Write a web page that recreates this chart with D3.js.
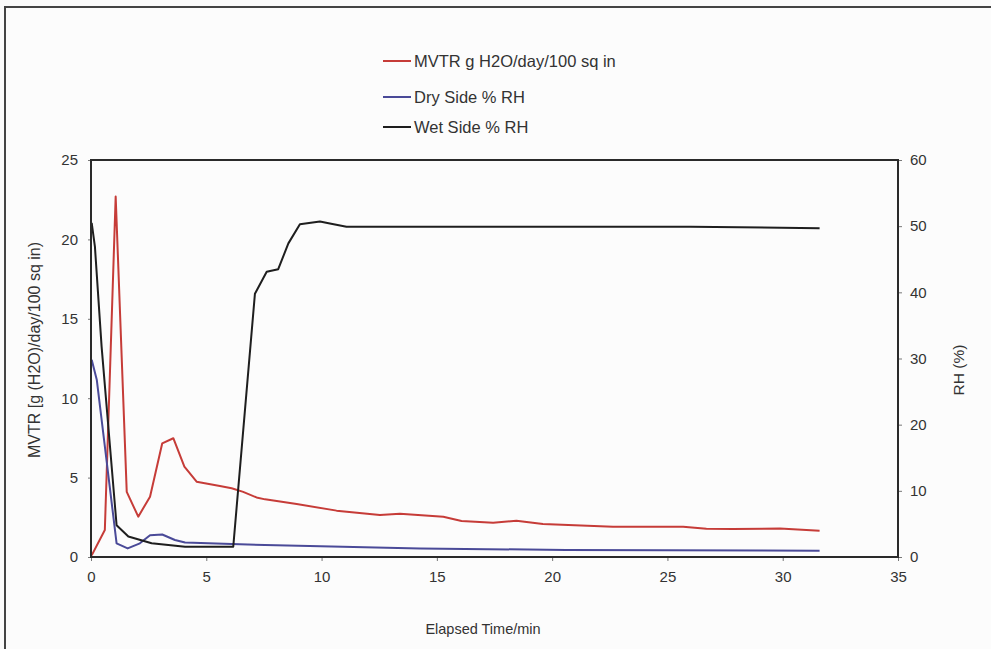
<!DOCTYPE html>
<html>
<head>
<meta charset="utf-8">
<script src="https://cdn.jsdelivr.net/npm/d3@7"></script>
<style>
  html, body { margin: 0; padding: 0; background: #fbfbfb; }
  svg text { font-family: "Liberation Sans", Arial, sans-serif; fill: #333; }
</style>
</head>
<body>
<svg id="chart" width="991" height="649"></svg>
<script>
// ---- Data ----
const mvtrTime = [0.03, 0.6, 1.07, 1.55, 2.05, 2.56, 3.09, 3.57, 4.05, 4.58, 5.59, 6.1, 6.6, 7.18, 7.55, 8.92, 10.65, 12.53, 13.4, 15.28, 16.07, 17.44, 18.45, 19.6, 22.64, 25.68, 26.69, 27.85, 29.88, 31.6];
const mvtrValues = [0.1, 1.7, 22.7, 4.1, 2.54, 3.8, 7.16, 7.48, 5.69, 4.74, 4.47, 4.33, 4.1, 3.75, 3.63, 3.34, 2.92, 2.65, 2.72, 2.54, 2.27, 2.16, 2.29, 2.08, 1.91, 1.91, 1.78, 1.76, 1.8, 1.66];

const dryTime = [0.03, 0.25, 1.11, 1.59, 2.12, 2.56, 3.09, 3.64, 4.08, 6.1, 7.55, 14.27, 20.6, 31.6];
const dryValues = [29.8, 26.8, 2.07, 1.3, 2.07, 3.3, 3.4, 2.57, 2.2, 1.96, 1.8, 1.3, 1.06, 0.95];

const wetTime = [0.03, 0.17, 0.46, 1.11, 1.62, 2.63, 4.08, 6.17, 7.11, 7.62, 8.12, 8.56, 9.06, 9.93, 10.36, 11.08, 14.27, 20.0, 26.0, 31.6];
const wetValues = [50.5, 46.9, 31.8, 4.8, 3.1, 2.07, 1.56, 1.56, 39.8, 43.1, 43.5, 47.4, 50.3, 50.7, 50.4, 49.9, 49.9, 49.9, 49.9, 49.7];

const xTicks = [0, 5, 10, 15, 20, 25, 30, 35];
const leftTicks = [0, 5, 10, 15, 20, 25];
const rightTicks = [0, 10, 20, 30, 40, 50, 60];

const seriesNames = ["MVTR g H2O/day/100 sq in", "Dry Side % RH", "Wet Side % RH"];
const seriesColors = ["#c63c38", "#4a4a98", "#1e1e1e"];

// ---- Layout ----
const svg = d3.select("#chart");
const L = 91, R = 898, T = 160, B = 557;

const x = d3.scaleLinear().domain([0, 35]).range([L, R]);
const yL = d3.scaleLinear().domain([0, 25]).range([B, T]);
const yR = d3.scaleLinear().domain([0, 60]).range([B, T]);

// outer frame
svg.append("rect").attr("x", 5).attr("y", 7).attr("width", 1000).attr("height", 700)
  .attr("fill", "#fcfcfc").attr("stroke", "#444").attr("stroke-width", 2);

// axes
const fs = "15px";
const gx = svg.append("g").attr("transform", `translate(0,${B})`)
  .call(d3.axisBottom(x).tickValues(xTicks).tickSize(4).tickPadding(10).tickFormat(d3.format("d")));
const gl = svg.append("g").attr("transform", `translate(${L},0)`)
  .call(d3.axisLeft(yL).tickValues(leftTicks).tickSize(3).tickPadding(10).tickFormat(d3.format("d")));
const gr = svg.append("g").attr("transform", `translate(${R},0)`)
  .call(d3.axisRight(yR).tickValues(rightTicks).tickSize(4).tickPadding(8).tickFormat(d3.format("d")));
[gx, gl, gr].forEach(g => {
  g.select(".domain").remove();
  g.selectAll(".tick line").attr("stroke", "#777");
  g.selectAll(".tick text").style("font-size", fs).style("font-family", "Liberation Sans, Arial, sans-serif").attr("fill", "#333");
});

// lines
const mk = (xs, ys, yScale) => d3.line().x((d, i) => x(xs[i])).y((d, i) => yScale(ys[i]));
const plots = [
  [mvtrTime, mvtrValues, yL],
  [dryTime, dryValues, yR],
  [wetTime, wetValues, yR]
];
plots.forEach((p, k) => {
  svg.append("path").datum(p[1]).attr("d", mk(p[0], p[1], p[2]))
    .attr("fill", "none").attr("stroke", seriesColors[k]).attr("stroke-width", 2)
    .attr("stroke-linejoin", "round");
});

// plot frame
svg.append("rect").attr("x", L).attr("y", T).attr("width", R - L).attr("height", B - T)
  .attr("fill", "none").attr("stroke", "#2a2a2a").attr("stroke-width", 2);

// axis titles
svg.append("text").attr("transform", `translate(40,${350}) rotate(-90)`)
  .attr("text-anchor", "middle").style("font-size", "16px").text("MVTR [g (H2O)/day/100 sq in)");
svg.append("text").attr("transform", `translate(964,${370}) rotate(-90)`)
  .attr("text-anchor", "middle").style("font-size", "15.5px").text("RH (%)");
svg.append("text").attr("x", 483).attr("y", 634).attr("text-anchor", "middle")
  .style("font-size", "14.5px").text("Elapsed Time/min");

// legend
const legY = [61, 97, 127];
seriesNames.forEach((n, k) => {
  svg.append("line").attr("x1", 383).attr("x2", 411).attr("y1", legY[k]).attr("y2", legY[k])
    .attr("stroke", seriesColors[k]).attr("stroke-width", 2);
  svg.append("text").attr("x", 414).attr("y", legY[k] + 6).style("font-size", "16.5px").text(n);
});
</script>
</body>
</html>
